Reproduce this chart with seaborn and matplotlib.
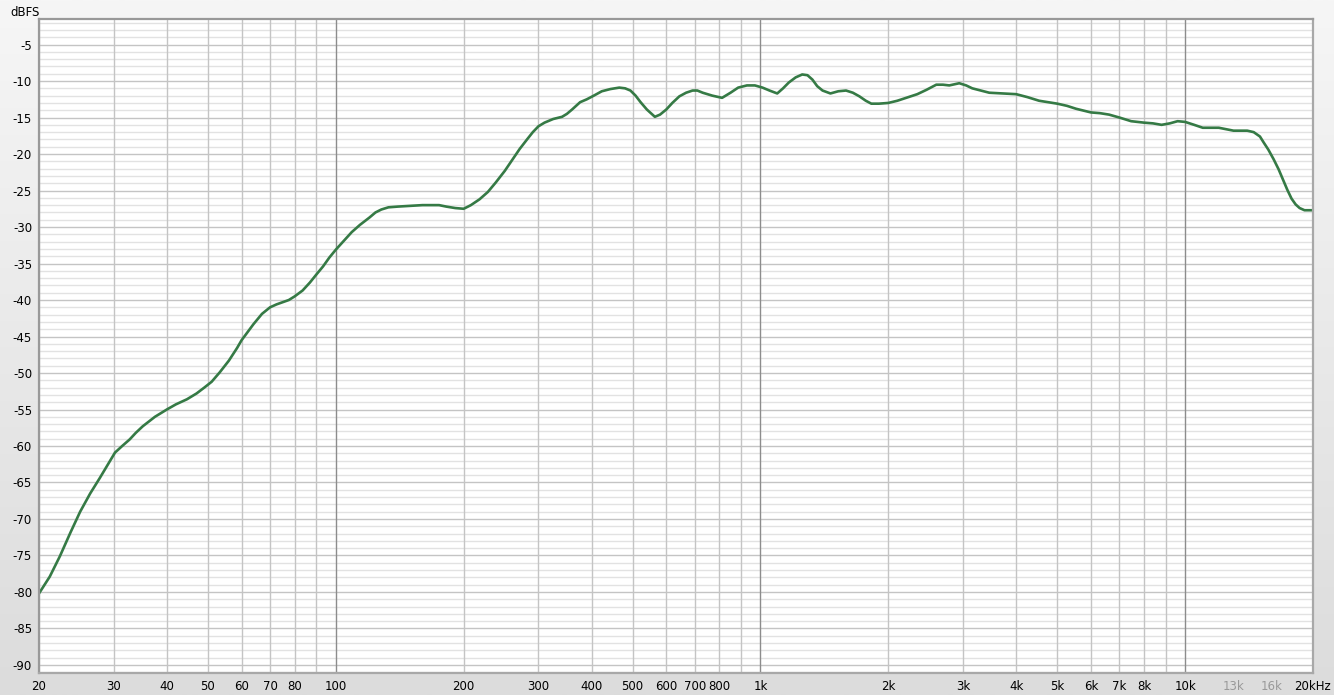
import numpy as np
import pandas as pd
import matplotlib
matplotlib.use("Agg")
import matplotlib.pyplot as plt
from matplotlib.colors import LinearSegmentedColormap
import seaborn as sns

# ---- data ----
freq_hz = [20, 21.2, 22.4, 23.7, 25.0, 26.4, 27.8, 29, 30.2, 31.4, 32.7, 33.8, 35.1, 37.5,
           40, 42, 44.6, 47, 49, 51, 53.3, 56, 58.5, 60, 64, 67, 70, 72.5, 75, 77.5,
           80, 83.5, 86.9, 90, 93.3, 96.5, 100, 104, 109, 114, 120, 124, 128, 133,
           140, 150, 160, 168, 175, 182, 191, 200, 208, 218, 228, 238, 250, 261, 271,
           282, 291, 300, 310, 325, 341, 350, 360, 376, 390, 405, 423, 443, 465, 480,
           494, 508, 522, 540, 564, 580, 600, 620, 644, 668, 692, 710, 731, 770, 812,
           850, 886, 929, 970, 1011, 1050, 1095, 1130, 1166, 1210, 1254, 1290, 1325,
           1360, 1400, 1461, 1525, 1590, 1650, 1710, 1770, 1824, 1900, 2000, 2100, 2205,
           2340, 2460, 2594, 2690, 2783, 2938, 3050, 3153, 3300, 3457, 3700, 4000,
           4250, 4530, 5000, 5270, 5536, 6000, 6300, 6620, 7000, 7460, 8000, 8400,
           8800, 9200, 9600, 10000, 10500, 11000, 11500, 12000, 12500, 13000, 13500,
           14000, 14500, 15000, 15300, 15700, 16150, 16600, 17000, 17400, 17800,
           18200, 18600, 19100, 20000]
level_dbfs = [-80.2, -77.9, -75.1, -71.9, -69.0, -66.5, -64.4, -62.6, -60.9, -60.0, -59.1,
              -58.2, -57.3, -56.0, -55.0, -54.3, -53.6, -52.8, -52.0, -51.2, -49.9, -48.3,
              -46.6, -45.5, -43.3, -41.9, -41.0, -40.6, -40.3, -40.0, -39.5, -38.7, -37.6,
              -36.5, -35.4, -34.2, -33.1, -32.0, -30.7, -29.7, -28.7, -28.0, -27.6, -27.3,
              -27.2, -27.1, -27.0, -27.0, -27.0, -27.2, -27.4, -27.5, -27.0, -26.2, -25.2,
              -23.9, -22.3, -20.7, -19.3, -18.0, -17.0, -16.2, -15.7, -15.2, -14.9, -14.5,
              -13.9, -12.9, -12.5, -12.0, -11.4, -11.1, -10.9, -11.0, -11.3, -12.0, -12.9,
              -13.9, -14.9, -14.6, -13.9, -13.0, -12.1, -11.6, -11.3, -11.3, -11.6, -12.0,
              -12.3, -11.6, -10.9, -10.6, -10.6, -10.9, -11.3, -11.7, -11.0, -10.2, -9.5,
              -9.1, -9.2, -9.8, -10.7, -11.3, -11.7, -11.4, -11.3, -11.6, -12.1, -12.7,
              -13.1, -13.1, -13.0, -12.7, -12.3, -11.8, -11.2, -10.5, -10.5, -10.6, -10.3,
              -10.6, -11.0, -11.3, -11.6, -11.7, -11.8, -12.2, -12.7, -13.1, -13.4, -13.8,
              -14.3, -14.4, -14.6, -15.0, -15.5, -15.7, -15.8, -16.0, -15.8, -15.5, -15.6,
              -16.0, -16.4, -16.4, -16.4, -16.6, -16.8, -16.8, -16.8, -17.0, -17.6, -18.4,
              -19.4, -20.7, -22.1, -23.5, -24.9, -26.1, -26.9, -27.4, -27.7, -27.7]

x_tick_values = [20, 30, 40, 50, 60, 70, 80, 100, 200, 300, 400, 500, 600, 700, 800,
                 1000, 2000, 3000, 4000, 5000, 6000, 7000, 8000, 10000, 13000, 16000, 20000]
x_tick_labels = ["20", "30", "40", "50", "60", "70", "80", "100", "200", "300", "400",
                 "500", "600", "700", "800", "1k", "2k", "3k", "4k", "5k", "6k", "7k",
                 "8k", "10k", "13k", "16k", "20kHz"]
y_tick_values = list(range(-5, -91, -5))

n = min(len(freq_hz), len(level_dbfs))
df = pd.DataFrame({"freq": freq_hz[:n], "level": level_dbfs[:n]})

plt.rcParams["axes.unicode_minus"] = False
plt.rcParams["font.family"] = ["DejaVu Sans"]

W, H = 1334, 695
fig = plt.figure(figsize=(W / 100, H / 100), dpi=100)

# background gradient
bg = fig.add_axes([0, 0, 1, 1], zorder=0)
grad = np.linspace(0, 1, 256).reshape(-1, 1)
cmap = LinearSegmentedColormap.from_list("bg", ["#f6f6f6", "#dcdcdc"])
bg.imshow(grad, aspect="auto", cmap=cmap, extent=[0, 1, 0, 1], origin="upper")
bg.set_axis_off()

left, right, top, bottom = 39, 1313, 19, 673
ax = fig.add_axes([left / W, 1 - bottom / H, (right - left) / W, (bottom - top) / H], zorder=1)
ax.set_facecolor("white")
ax.set_xscale("log")
ax.set_xlim(20, 20000)
ax.set_ylim(-91.1, -1.5)

# grid lines
for db in range(-2, -92, -1):
    if db % 5 == 0:
        ax.axhline(db, color="#c4c4c4", lw=1.0, zorder=1)
    else:
        ax.axhline(db, color="#e2e2e2", lw=1.0, zorder=0.5)
for dec in [10, 100, 1000, 10000]:
    for m in range(1, 10):
        f = dec * m
        if f < 20 or f >= 20000:
            continue
        if m == 1 and dec in (100, 1000, 10000):
            ax.axvline(f, color="#8c8c8c", lw=1.0, zorder=1.5)
        elif dec == 10000:
            ax.axvline(f, color="#dcdcdc", lw=1.0, zorder=1)
        else:
            ax.axvline(f, color="#c4c4c4", lw=1.0, zorder=1)

sns.lineplot(data=df, x="freq", y="level", ax=ax, color="#357a45", lw=1.9,
             zorder=3, legend=False, solid_joinstyle="round", solid_capstyle="round")

ax.set_xlabel("")
ax.set_ylabel("")
ax.set_xticks(x_tick_values)
ax.set_xticklabels(x_tick_labels)
ax.xaxis.set_minor_locator(matplotlib.ticker.NullLocator())
ax.set_yticks(y_tick_values)
ax.set_yticklabels([str(v) for v in y_tick_values])
ax.tick_params(axis="both", length=0, labelsize=8.5, colors="black")
ax.tick_params(axis="x", pad=5)
ax.tick_params(axis="y", pad=5)
for lbl in ax.get_xticklabels():
    if lbl.get_text() in ("13k", "16k"):
        lbl.set_color("#999999")

for side in ["left", "right", "top", "bottom"]:
    ax.spines[side].set_color("#a8a8a8")
    ax.spines[side].set_linewidth(1.6)
    ax.spines[side].set_zorder(4)
ax.spines["left"].set_color("#999999")
ax.spines["top"].set_color("#999999")

fig.text(10 / W, 1 - 12 / H, "dBFS", fontsize=8.5, ha="left", va="center", color="black")

fig.savefig("out.png", dpi=100)
